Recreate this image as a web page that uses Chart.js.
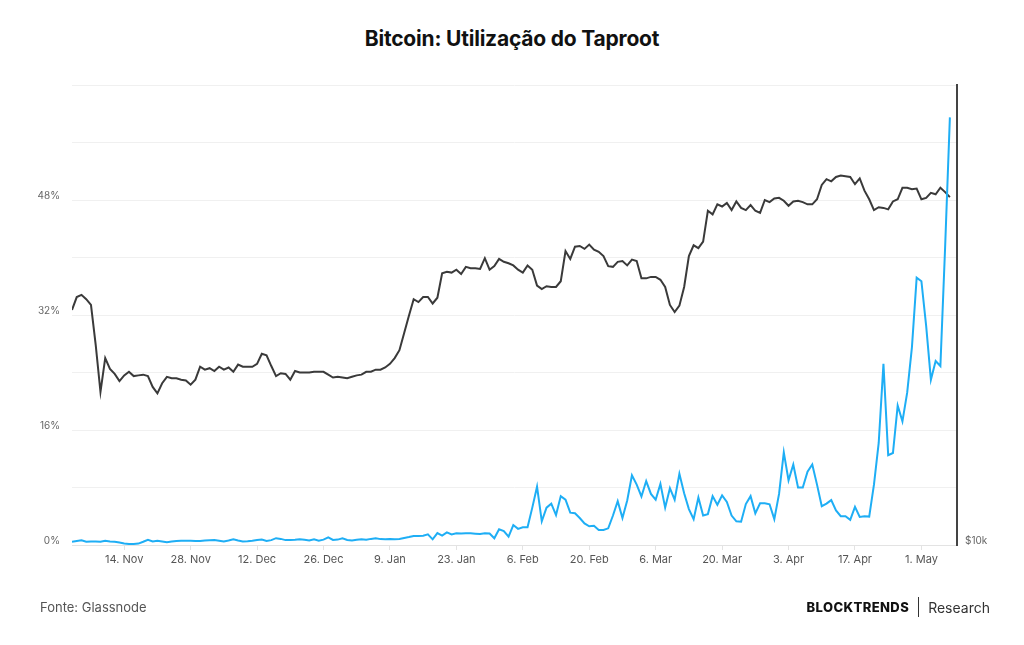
<!DOCTYPE html>
<html>
<head>
<meta charset="utf-8">
<script src="https://cdn.jsdelivr.net/npm/chart.js@4/dist/chart.umd.min.js"></script>
<style>
  html, body { margin: 0; padding: 0; background: #fff; }
  body { width: 1024px; height: 645px; position: relative; overflow: hidden; font-family: Inter, "Noto Sans", sans-serif; }
  #wrap { position: absolute; left: 0; top: 0; width: 1024px; height: 645px; }
  h1 { position: absolute; top: 26px; left: 0; width: 1024px; margin: 0; text-align: center; font-size: 21px; font-weight: 700; color: #111; letter-spacing: -0.2px; }
  .src { position: absolute; left: 40px; top: 599px; font-size: 13px; color: #555; }
  .brand { position: absolute; right: 34px; top: 597px; display: flex; align-items: center; font-size: 14px; color: #333; }
  .brand b { font-weight: 800; color: #111; font-size: 13px; letter-spacing: 0.4px; }
  .brand i { display: inline-block; width: 1px; height: 20px; background: #333; margin: 0 9px 0 9px; }
</style>
</head>
<body>
<h1>Bitcoin: Utilização do Taproot</h1>
<div id="wrap"><canvas id="chart" width="1024" height="645"></canvas></div>
<div class="src">Fonte: Glassnode</div>
<div class="brand"><b>BLOCKTRENDS</b><i></i><span>Research</span></div>
<script>
// daily values, 3 Nov 2022 -> 7 May 2023 (index = day)
const taprootShare = [
  32.7, 34.5, 34.8, 34.2, 33.4, 27.8, 21.3, 26.0, 24.5, 23.8,
  22.8, 23.6, 24.1, 23.5, 23.6, 23.7, 23.5, 22.0, 21.1, 22.5,
  23.4, 23.2, 23.2, 23.0, 22.9, 22.3, 23.0, 24.8, 24.4, 24.6,
  24.2, 24.8, 24.4, 24.7, 24.1, 25.1, 24.8, 24.8, 24.8, 25.2,
  26.6, 26.4, 24.9, 23.5, 23.9, 23.8, 23.0, 24.2, 24.0, 24.0,
  24.0, 24.1, 24.1, 24.1, 23.7, 23.3, 23.4, 23.3, 23.2, 23.4,
  23.6, 23.7, 24.1, 24.1, 24.4, 24.4, 24.7, 25.2, 26.0, 27.1,
  29.5, 31.9, 34.2, 33.8, 34.5, 34.5, 33.6, 34.4, 37.8, 38.0,
  37.9, 38.3, 37.7, 38.7, 38.5, 38.5, 38.4, 39.9, 38.3, 38.8,
  39.8, 39.4, 39.2, 38.9, 38.3, 37.9, 38.9, 38.3, 36.1, 35.6,
  36.0, 35.9, 35.9, 36.7, 40.9, 39.8, 41.5, 41.6, 41.2, 41.8,
  41.1, 40.8, 40.2, 38.8, 38.7, 39.4, 39.5, 38.9, 39.7, 39.5,
  37.1, 37.1, 37.3, 37.3, 36.9, 35.9, 33.4, 32.4, 33.3, 35.9,
  40.2, 41.7, 41.3, 42.2, 46.5, 46.0, 47.4, 47.1, 47.6, 46.6,
  47.8, 46.9, 46.6, 47.3, 46.5, 46.2, 48.0, 47.7, 48.2, 48.3,
  47.9, 47.2, 47.8, 47.9, 47.7, 47.4, 47.4, 48.1, 50.1, 50.9,
  50.6, 51.2, 51.4, 51.3, 51.2, 50.2, 51.0, 49.3, 48.1, 46.6,
  47.0, 46.9, 46.7, 47.8, 48.1, 49.7, 49.7, 49.5, 49.6, 48.1,
  48.3, 49.0, 48.8, 49.7, 49.1, 48.4
];
const blueSeries = [
  0.46, 0.55, 0.65, 0.46, 0.5, 0.5, 0.45, 0.6, 0.5, 0.45,
  0.35, 0.22, 0.15, 0.14, 0.2, 0.45, 0.72, 0.48, 0.58, 0.5,
  0.4, 0.48, 0.55, 0.58, 0.6, 0.58, 0.55, 0.55, 0.62, 0.66,
  0.7, 0.6, 0.48, 0.62, 0.79, 0.62, 0.5, 0.52, 0.6, 0.7,
  0.75, 0.56, 0.68, 0.95, 0.85, 0.68, 0.7, 0.72, 0.8, 0.72,
  0.62, 0.8, 0.6, 0.75, 1.07, 0.7, 0.75, 0.92, 0.7, 0.62,
  0.72, 0.8, 0.72, 0.85, 0.95, 0.82, 0.8, 0.83, 0.8, 0.85,
  0.97, 1.1, 1.25, 1.25, 1.3, 1.48, 0.79, 1.65, 1.3, 1.75,
  1.48, 1.62, 1.6, 1.62, 1.62, 1.58, 1.53, 1.62, 1.6, 0.93,
  2.18, 1.95, 1.16, 2.78, 2.25, 2.46, 2.46, 5.2, 8.11, 3.3,
  5.2, 5.75, 4.17, 6.8, 6.3, 4.5, 4.41, 3.75, 3.0, 2.6,
  2.67, 2.09, 2.09, 2.32, 4.1, 6.1, 3.75, 6.2, 9.7, 8.4,
  6.75, 8.9, 7.1, 6.3, 8.5, 5.2, 7.9, 6.3, 9.9, 7.2,
  5.0, 3.6, 6.6, 4.1, 4.3, 6.8, 5.6, 6.9, 6.0, 4.1,
  3.3, 3.24, 5.7, 6.8, 4.4, 5.8, 5.8, 5.66, 3.6, 7.1,
  12.9, 9.0, 11.2, 8.0, 8.0, 10.2, 11.2, 8.4, 5.4, 5.75,
  6.25, 4.8, 4.0, 4.0, 3.5, 5.3, 3.9, 4.0, 3.95, 8.4,
  14.2, 25.2, 12.5, 12.8, 19.4, 17.2, 21.2, 27.5, 37.2, 36.7,
  30.5, 23.0, 25.6, 24.9, 41.5, 59.5
];
const tickLabels = ['14. Nov', '28. Nov', '12. Dec', '26. Dec', '9. Jan', '23. Jan', '6. Feb',
                    '20. Feb', '6. Mar', '20. Mar', '3. Apr', '17. Apr', '1. May'];
const tickDays = [11, 25, 39, 53, 67, 81, 95, 109, 123, 137, 151, 165, 179];
const yTicks = [0, 8, 16, 24, 32, 40, 48, 56, 64];
const yLabelled = [0, 16, 32, 48];

const tickFont = { family: 'Inter', size: 10 };
const toPoints = arr => arr.map((v, i) => ({ x: i, y: v }));

new Chart(document.getElementById('chart'), {
  type: 'line',
  data: {
    datasets: [
      {
        label: 'Blue',
        data: toPoints(blueSeries),
        borderColor: '#1eaef5',
        borderWidth: 2,
        pointRadius: 0,
        tension: 0
      },
      {
        label: 'Taproot',
        data: toPoints(taprootShare),
        borderColor: '#3a3a3a',
        borderWidth: 2,
        pointRadius: 0,
        tension: 0
      }
    ]
  },
  options: {
    responsive: false,
    animation: false,
    layout: { padding: { top: 85, left: 12, right: 0, bottom: 70 } },
    plugins: { legend: { display: false }, tooltip: { enabled: false }, title: { display: false } },
    scales: {
      x: {
        type: 'linear',
        min: 0,
        max: 186.5,
        afterBuildTicks: axis => { axis.ticks = tickDays.map(v => ({ value: v })); },
        afterFit: scale => { scale.height = 30; },
        grid: { drawOnChartArea: false, color: '#e3e3e3', tickLength: 5 },
        border: { color: '#e3e3e3', width: 1 },
        ticks: {
          autoSkip: false,
          maxRotation: 0,
          padding: 3,
          color: '#555',
          font: { family: 'Inter', size: 11 },
          callback: v => tickLabels[tickDays.indexOf(v)] || ''
        }
      },
      y: {
        position: 'left',
        min: 0,
        max: 64,
        afterBuildTicks: axis => { axis.ticks = yTicks.map(v => ({ value: v })); },
        afterFit: scale => { scale.width = 60; },
        grid: { color: '#f0f0f0', drawTicks: false },
        border: { display: false },
        ticks: {
          padding: 12,
          labelOffset: -4,
          color: '#666',
          font: tickFont,
          callback: v => yLabelled.includes(v) ? v + '%' : ''
        }
      },
      y2: {
        position: 'right',
        display: true,
        min: 10000,
        max: 80000,
        afterBuildTicks: axis => { axis.ticks = [{ value: 10000 }]; },
        afterFit: scale => { scale.width = 67; },
        grid: { drawOnChartArea: false, drawTicks: false },
        border: { color: '#444', width: 2 },
        ticks: {
          padding: 8,
          labelOffset: -4,
          color: '#666',
          font: tickFont,
          callback: v => '$' + (v / 1000) + 'k'
        }
      }
    }
  }
});
</script>
</body>
</html>
